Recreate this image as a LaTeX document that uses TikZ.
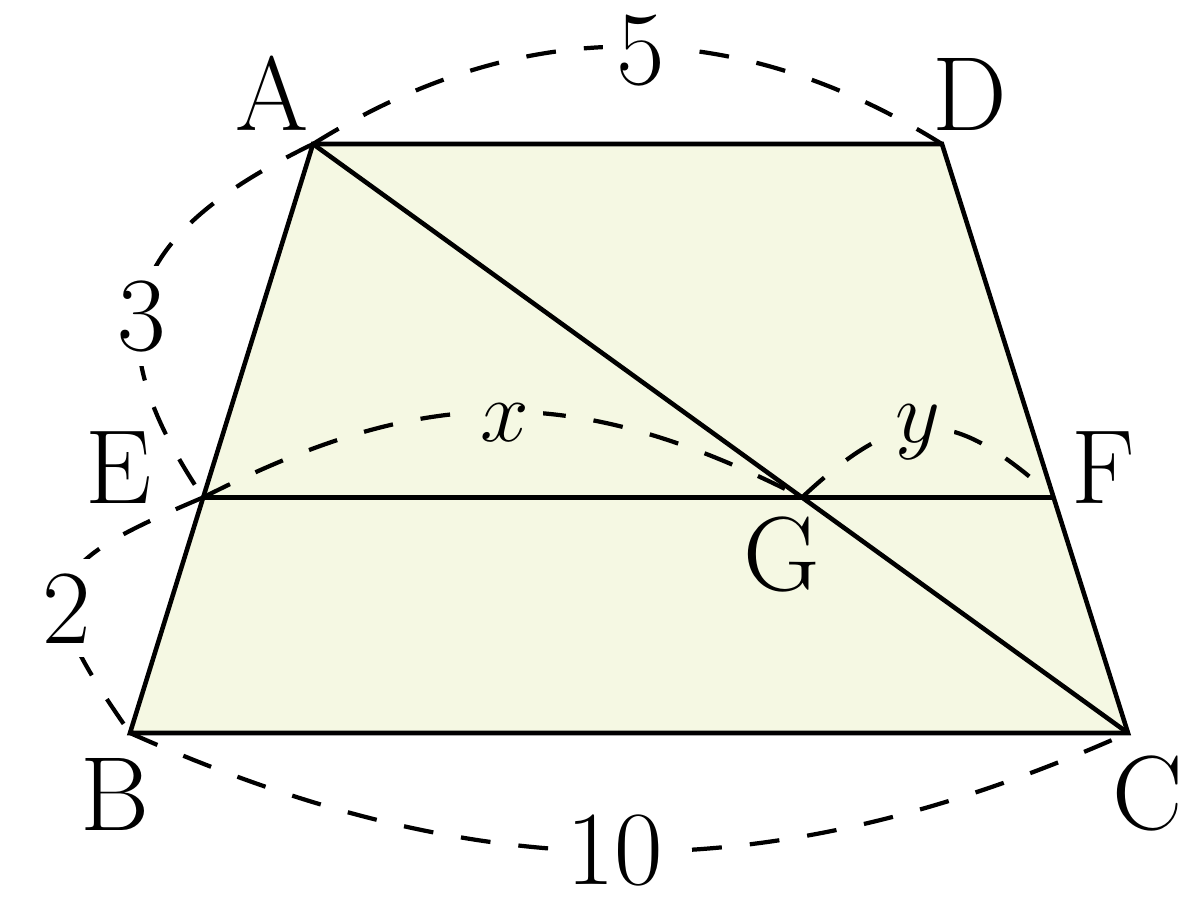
\documentclass[tikz,border=0pt]{standalone}
\usetikzlibrary{calc}
\definecolor{trapfill}{RGB}{245,248,227}
\begin{document}
\begin{tikzpicture}[
  solid line/.style={line width=1.3pt, line join=miter},
  dsh/.style={line width=1.2pt, dash pattern=on 8.5pt off 8pt},
  vlabel/.style={font=\fontsize{30}{36}\selectfont, anchor=base, inner sep=0pt},
  mlabel/.style={font=\fontsize{30}{36}\selectfont, anchor=base, inner sep=4pt, fill=white},
  mlabelin/.style={mlabel, fill=trapfill}
]
\useasboundingbox (0,0) rectangle (11.82,-9.11);
\coordinate (A) at (3.13,-1.44);
\coordinate (D) at (9.42,-1.44);
\coordinate (B) at (1.30,-7.33);
\coordinate (C) at (11.28,-7.33);
\coordinate (E) at ($(A)!0.6!(B)$);
\coordinate (F) at ($(D)!0.6!(C)$);
\coordinate (G) at ($(A)!0.6!(C)$);

% fill
\fill[trapfill] (A) -- (D) -- (C) -- (B) -- cycle;

% dashed arcs
\draw[dsh] (A) to[bend left=32] (D);
\draw[dsh] (B) to[bend right=24] (C);
\draw[dsh] (A) to[out=206,in=124,looseness=1.43] (E);
\draw[dsh] (E) to[out=203,in=125,looseness=1.85] (B);
\draw[dsh] (E) to[bend left=27,looseness=1.08] (G);
\draw[dsh] (G) to[out=43,in=138,looseness=1.4] (F);

% measure labels
\node[mlabel] (l5) at (6.41,-0.84) {5};
\node[mlabel] (l3) at (1.42,-3.50) {3};
\node[mlabel] (l2) at (0.67,-6.43) {2};
\node[mlabel] (l10) at (6.15,-8.84) {10};
\node[mlabelin] (lx) at (5.05,-4.41) {$x$};
\node[mlabelin] (ly) at (9.18,-4.42) {$y$};

% solid lines
\draw[solid line] (A) -- (D) -- (C) -- (B) -- cycle;
\draw[solid line] (E) -- (F);
\draw[solid line] (A) -- (C);

% vertex labels
\node[vlabel] (nA) at (2.72,-1.30) {A};
\node[vlabel] (nD) at (9.70,-1.30) {D};
\node[vlabel] (nE) at (1.19,-5.03) {E};
\node[vlabel] (nF) at (11.03,-5.03) {F};
\node[vlabel] (nG) at (7.82,-5.90) {G};
\node[vlabel] (nB) at (1.15,-8.30) {B};
\node[vlabel] (nC) at (11.48,-8.29) {C};
\end{tikzpicture}
\end{document}
